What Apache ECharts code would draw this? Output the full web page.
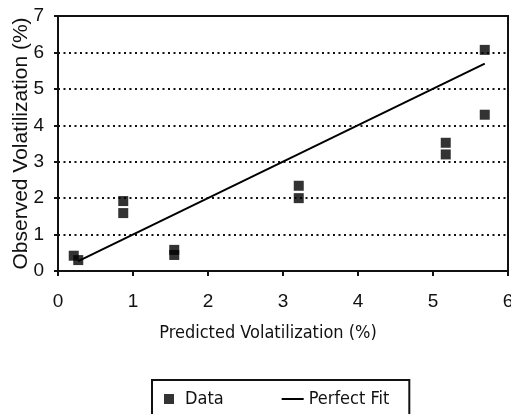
<!DOCTYPE html>
<html>
<head>
<meta charset="utf-8">
<script src="https://cdn.jsdelivr.net/npm/echarts@6/dist/echarts.min.js"></script>
<style>
  html, body { margin: 0; padding: 0; background: #fff; }
  #chart { width: 511px; height: 414px; }
</style>
</head>
<body>
<div id="chart"></div>
<script>
// Predicted vs. observed volatilization (%)
const predicted = [0.21, 0.27, 0.87, 0.87, 1.55, 1.55, 3.21, 3.21, 5.17, 5.17, 5.69, 5.69];
const observed  = [0.42, 0.30, 1.92, 1.59, 0.58, 0.44, 2.34, 2.00, 3.52, 3.20, 6.07, 4.29];
// 1:1 reference line over the range of predictions
const fitX = [0.27, 5.69];
const fitY = [0.27, 5.69];

const xTicks = [0, 1, 2, 3, 4, 5, 6];
const yTicks = [0, 1, 2, 3, 4, 5, 6, 7];

const ink = '#111';
const narrow = "'DejaVu Sans Condensed', Roboto, 'Liberation Sans', sans-serif";
const plain = "'Liberation Sans', Arial, sans-serif";
const chart = echarts.init(document.getElementById('chart'), null, { renderer: 'canvas' });

chart.setOption({
  animation: false,
  backgroundColor: '#fff',
  grid: {
    left: 58, top: 16, right: 3, bottom: 143,
    containLabel: false, outerBoundsMode: 'none',
    show: true, borderColor: ink, borderWidth: 2, backgroundColor: 'transparent'
  },
  xAxis: {
    type: 'value',
    min: xTicks[0], max: xTicks[xTicks.length - 1], interval: 1,
    name: 'Predicted Volatilization (%)',
    nameLocation: 'middle', nameGap: 53, nameMoveOverlap: false,
    nameTextStyle: { fontFamily: narrow, fontSize: 18, color: ink, padding: [0, 30, 0, 0] },
    axisLine: { show: true, lineStyle: { color: ink, width: 2 } },
    axisTick: { show: true, inside: false, length: 5, lineStyle: { color: ink, width: 2 } },
    axisLabel: { margin: 21, fontFamily: plain, fontSize: 19, color: ink },
    splitLine: { show: false }
  },
  yAxis: {
    type: 'value',
    min: yTicks[0], max: yTicks[yTicks.length - 1], interval: 1,
    name: 'Observed Volatilization (%)',
    nameLocation: 'middle', nameGap: 26, nameRotate: 90, nameMoveOverlap: false,
    nameTextStyle: { fontFamily: plain, fontSize: 21, color: ink },
    axisLine: { show: true, lineStyle: { color: ink, width: 2 } },
    axisTick: { show: true, inside: false, length: 4, lineStyle: { color: ink, width: 2 } },
    axisLabel: { margin: 14, fontFamily: plain, fontSize: 19, color: ink },
    splitLine: { show: true, lineStyle: { color: ink, width: 2, type: [2, 3.5] } }
  },
  legend: {
    left: 152, top: 380,
    orient: 'horizontal',
    padding: [10, 20, 20, 12],
    itemGap: 58, itemWidth: 22, itemHeight: 10,
    borderColor: ink, borderWidth: 2, borderRadius: 0,
    textStyle: { fontFamily: narrow, fontSize: 18, color: ink },
    data: [
      { name: 'Data', icon: 'path://M0,0h10v10h-10z' },
      { name: 'Perfect Fit', icon: 'path://M0,0h22v2h-22z' }
    ]
  },
  series: [
    {
      name: 'Data',
      type: 'scatter',
      symbol: 'rect',
      symbolSize: 10,
      itemStyle: { color: '#000' },
      data: predicted.map((x, i) => [x, observed[i]]),
      z: 3
    },
    {
      name: 'Perfect Fit',
      type: 'line',
      symbol: 'none',
      lineStyle: { color: '#000', width: 2 },
      itemStyle: { color: '#000' },
      data: fitX.map((x, i) => [x, fitY[i]]),
      z: 2
    }
  ]
});
</script>
</body>
</html>
